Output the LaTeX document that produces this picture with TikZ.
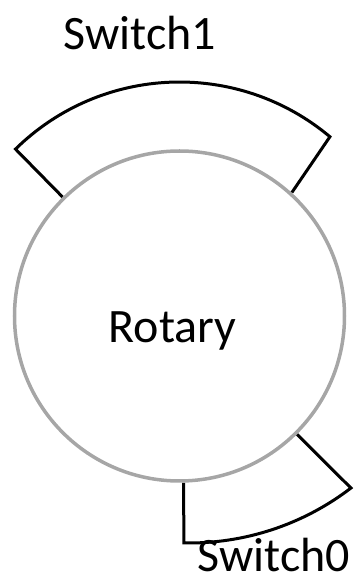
\documentclass[tikz,border=0pt]{standalone}
\usepackage{fontspec}
\setmainfont{Carlito}
\usetikzlibrary{calc}
\definecolor{rimgray}{RGB}{166,166,166}
\begin{document}
\begin{tikzpicture}[x=1pt,y=1pt,
  rim/.style={draw=rimgray,line width=3.5pt,circle,inner sep=0pt,minimum size=330pt},
  swline/.style={draw=black,line width=3pt,line join=miter},
  lbl/.style={font=\fontsize{48}{58}\selectfont,inner sep=0pt,anchor=base}]
\useasboundingbox (0,0) rectangle (359,579);
\coordinate (c) at (179.5,263);
\coordinate (c0) at (189,302);
\node[rim] (rot) at (c) {};
\node[lbl] (rotlbl) at (172.5,236) {Rotary};
% Switch1
\draw[swline] ($(c)+(134.5:167)$) -- ($(c)+(134.5:234)$)
  arc[start angle=134.5,end angle=50,radius=234] -- ($(c)+(47.7:167)$);
\node[lbl] (s1) at (140,529) {Switch1};
% Switch0
\draw[swline] ($(c)+(-45.2:167)$) -- ($(c0)+(-52.5:266)$)
  arc[start angle=-52.5,end angle=-91.1,radius=266] -- ($(c)+(-88.6:167)$);
\node[lbl] (s0) at (274,8) {Switch0};
\end{tikzpicture}
\end{document}
